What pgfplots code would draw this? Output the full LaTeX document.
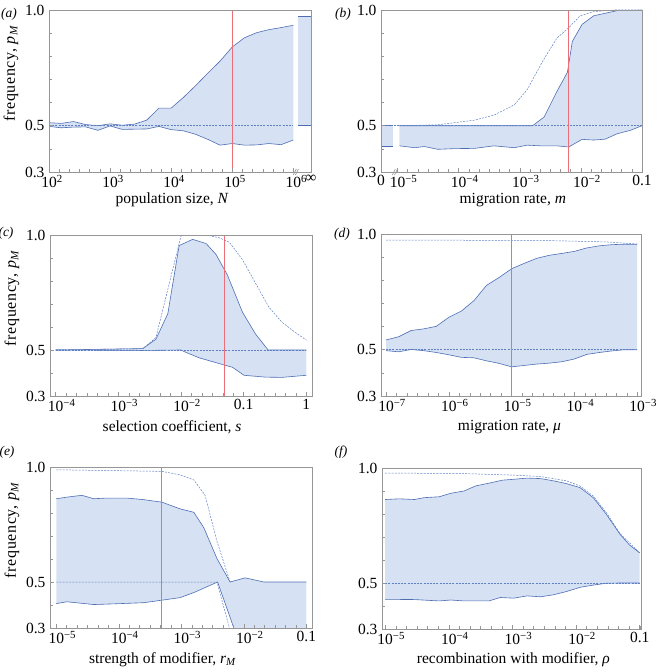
\documentclass[border=0pt]{standalone}
\usepackage{fontspec}
\setmainfont{Liberation Serif}
\newfontfamily\spacedfont[LetterSpace=4]{Liberation Serif}
\usepackage{pgfplots}
\usepackage{pgfplotstable}
\pgfplotsset{compat=1.18}
\usepgfplotslibrary{fillbetween}
\definecolor{bandfill}{RGB}{214,226,243}
\definecolor{bandline}{RGB}{78,110,180}
\definecolor{dashline}{RGB}{95,128,196}
\definecolor{redline}{RGB}{235,110,120}
\definecolor{framegray}{RGB}{150,150,150}
\newcommand\tickfont{\fontsize{15.5bp}{18bp}\selectfont}
\newcommand\ylabfont{\fontsize{16bp}{19bp}\selectfont}
\newcommand\panelfont{\fontsize{13.5bp}{16bp}\selectfont}
\newcommand\sx[1]{10\rlap{\textsuperscript{#1}}}

% ---------- panel (a)
\pgfplotstableread{
x up lo
2.0 0.513 0.497
2.2 0.510 0.491
2.4 0.518 0.494
2.6 0.505 0.495
2.8 0.500 0.480
3.0 0.508 0.499
3.2 0.502 0.484
3.4 0.507 0.485
3.6 0.524 0.486
3.8 0.576 0.497
4.0 0.576 0.483
4.2 0.622 0.478
4.4 0.673 0.463
4.6 0.727 0.441
4.8 0.779 0.416
5.0 0.840 0.423
5.2 0.880 0.416
5.4 0.902 0.417
5.6 0.915 0.423
5.8 0.924 0.418
6.0 0.934 0.438
}\tabA
% ---------- panel (b)
\pgfplotstableread{
x y
-4.97 0.500
-2.79 0.500
-2.60 0.538
-2.39 0.649
-2.22 0.731
-2.14 0.864
-1.98 0.938
-1.79 0.975
-1.41 0.997
-1.00 0.999
}\tabBup
\pgfplotstableread{
x y
-4.97 0.413
-4.72 0.405
-4.56 0.410
-4.34 0.398
-4.07 0.401
-3.74 0.402
-3.42 0.413
-3.09 0.405
-2.875 0.416
-2.66 0.413
-2.39 0.413
-2.20 0.408
-1.98 0.441
-1.79 0.438
-1.60 0.442
-1.41 0.465
-1.19 0.480
-1.00 0.500
}\tabBlo
\pgfplotstableread{
x y
-4.97 0.500
-4.34 0.504
-3.74 0.524
-3.42 0.546
-3.09 0.590
-2.875 0.657
-2.77 0.709
-2.60 0.790
-2.39 0.879
-2.20 0.923
-2.01 0.975
-1.79 0.993
-1.46 1.000
-1.00 1.000
}\tabBdash
% ---------- panel (c)
\pgfplotstableread{
x y
-4.00 0.500
-2.61 0.506
-2.40 0.547
-2.21 0.658
-2.03 0.954
-1.815 0.981
-1.60 0.963
-1.44 0.915
-1.26 0.826
-1.02 0.665
-0.81 0.569
-0.61 0.500
0.00 0.500
}\tabCup
\pgfplotstableread{
x y
-4.00 0.500
-2.61 0.498
-2.00 0.500
-1.95 0.493
-1.71 0.466
-1.30 0.434
-1.18 0.425
-0.995 0.390
-0.65 0.382
-0.39 0.381
0.00 0.390
}\tabClo
\pgfplotstableread{
x y
-4.00 0.500
-2.61 0.506
-2.40 0.554
-2.00 0.996
-1.815 1.000
-1.60 1.000
-1.39 0.988
-1.23 0.969
-1.02 0.893
-0.81 0.790
-0.60 0.687
-0.39 0.621
-0.175 0.576
0.00 0.543
}\tabCdash
% ---------- panel (d)
\pgfplotstableread{
x up lo
-7.0 0.542 0.496
-6.8 0.556 0.491
-6.6 0.583 0.501
-6.4 0.590 0.496
-6.2 0.601 0.488
-6.0 0.640 0.478
-5.8 0.667 0.467
-5.6 0.712 0.465
-5.4 0.778 0.452
-5.2 0.812 0.441
-5.0 0.850 0.426
-4.8 0.873 0.432
-4.6 0.895 0.438
-4.4 0.908 0.442
-4.2 0.916 0.448
-4.0 0.925 0.460
-3.8 0.940 0.480
-3.6 0.949 0.488
-3.4 0.954 0.495
-3.2 0.956 0.500
-3.0 0.955 0.500
}\tabD
% ---------- panel (e)
\pgfplotstableread{
x y
-5.00 0.862
-4.83 0.869
-4.59 0.877
-4.40 0.862
-4.19 0.865
-3.87 0.865
-3.60 0.858
-3.31 0.847
-3.02 0.818
-2.80 0.803
-2.64 0.736
-2.43 0.602
-2.22 0.500
-1.98 0.518
-1.68 0.500
-1.00 0.500
}\tabEup
\pgfplotstableread{
x y
-5.00 0.406
-4.83 0.414
-4.40 0.402
-4.08 0.405
-3.60 0.410
-3.31 0.421
-3.02 0.432
-2.80 0.454
-2.42 0.500
-2.16 0.300
-1.90 0.000
-1.00 0.000
}\tabElo
\pgfplotstableread{
x y
-5.00 0.988
-3.31 0.981
-3.02 0.966
-2.80 0.944
-2.62 0.877
-2.43 0.677
-2.22 0.500
}\tabEdash
% ---------- panel (f)
\pgfplotstableread{
x y
-5.00 0.863
-4.78 0.866
-4.54 0.863
-4.39 0.871
-4.15 0.875
-3.97 0.890
-3.76 0.900
-3.58 0.922
-3.37 0.934
-3.16 0.947
-2.98 0.951
-2.77 0.956
-2.56 0.954
-2.35 0.944
-2.15 0.932
-1.94 0.915
-1.73 0.871
-1.52 0.797
-1.31 0.712
-1.16 0.665
-1.00 0.631
}\tabFup
\pgfplotstableread{
x y
-5.00 0.429
-4.54 0.428
-4.15 0.422
-3.97 0.426
-3.76 0.422
-3.58 0.422
-3.37 0.422
-3.19 0.437
-2.98 0.434
-2.77 0.444
-2.56 0.440
-2.35 0.449
-2.15 0.463
-1.94 0.481
-1.73 0.491
-1.52 0.499
-1.31 0.500
-1.00 0.500
}\tabFlo
\pgfplotstableread{
x y
-5.00 0.978
-3.80 0.976
-2.98 0.969
-2.56 0.963
-2.15 0.944
-1.94 0.922
-1.73 0.878
-1.52 0.804
-1.31 0.715
-1.00 0.631
}\tabFdash

\pgfplotsset{
  panel/.style={
    scale only axis, width=262bp, height=162bp,
    anchor=south west,
    ymin=0.3, ymax=1.0,
    ytick={0.3,0.5,1.0}, yticklabels={0.3,0.5,1.0},
    minor ytick={0.4,0.6,0.7,0.8,0.9},
    axis on top,
    axis line style={draw=framegray, line width=0.8bp},
    tick style={framegray, line width=0.5bp},
    major tick length=4bp, minor tick length=3bp,
    tick align=inside, xtick pos=bottom, ytick pos=left,
    ticklabel style={font=\tickfont},
    yticklabel style={xshift=-1bp},
    xlabel style={font=\tickfont, anchor=center},
    ylabel style={font=\ylabfont, anchor=center, at={(axis description cs:-0.145,0.61)}},
  },
  sol/.style={bandline, line width=0.6bp, no marks},
  dsh/.style={dashline, line width=0.5bp, dash pattern=on 2bp off 1.2bp, no marks},
  rl/.style={color=redline, line width=1.1bp, no marks},
}

\begin{document}
\begin{tikzpicture}

% (a)
\begin{axis}[panel, at={(49bp,500bp)}, clip mode=individual,
  xmin=2, xmax=6.29,
  xtick={2,3,4,5,6,6.29},
  xticklabels={\sx{2},\sx{3},\sx{4},\sx{5},\sx{6},∞},
  minor xtick={2,2.1667,...,6},
  xlabel={population size, \textit{N}},
  xlabel style={at={(axis description cs:0.47,0)}, yshift=-28bp},
  ylabel={\spacedfont frequency, \textit{p}\textsubscript{\textit{M}}}]
\addplot[sol, name path=AU] table[x=x,y=up] {\tabA};
\addplot[sol, name path=AL] table[x=x,y=lo] {\tabA};
\addplot[fill=bandfill, draw=none] fill between[of=AU and AL];
\addplot[sol, name path=AIU] coordinates {(6.08,0.973) (6.29,0.973)};
\addplot[sol, name path=AIL] coordinates {(6.08,0.5) (6.29,0.5)};
\addplot[fill=bandfill, draw=none] fill between[of=AIU and AIL];
\addplot[dsh] coordinates {(2,0.5) (6,0.5)};
\addplot[rl] coordinates {(5,0.3) (5,1.0)};
\draw[framegray, line width=0.6bp] (axis cs:6.025,0.3) ++(-1.5bp,-3bp) -- ++(3bp,6bp);
\draw[framegray, line width=0.6bp] (axis cs:6.06,0.3) ++(-1.5bp,-3bp) -- ++(3bp,6bp);
\end{axis}

% (b)
\begin{axis}[panel, at={(381bp,500bp)}, width=261bp, clip mode=individual,
  xmin=-5.27, xmax=-1,
  xtick={-5.27,-5,-4,-3,-2,-1},
  xticklabels={0,\sx{−5},\sx{−4},\sx{−3},\sx{−2},0.1},
  minor xtick={-5,-4.8333,...,-1},
  xlabel={migration rate, \textit{m}},
  xlabel style={at={(axis description cs:0.505,0)}, yshift=-28bp}]
\addplot[sol, name path=BU] table {\tabBup};
\addplot[sol, name path=BL] table {\tabBlo};
\addplot[fill=bandfill, draw=none] fill between[of=BU and BL];
\addplot[sol, name path=BZU] coordinates {(-5.27,0.5) (-5.07,0.5)};
\addplot[sol, name path=BZL] coordinates {(-5.27,0.413) (-5.07,0.413)};
\addplot[fill=bandfill, draw=none] fill between[of=BZU and BZL];
\addplot[dsh] table {\tabBdash};
\addplot[dsh] coordinates {(-5.27,0.5) (-1,0.5)};
\addplot[rl] coordinates {(-2.20,0.3) (-2.20,1.0)};
\draw[framegray, line width=0.6bp] (axis cs:-5.06,0.3) ++(-1.5bp,-3bp) -- ++(3bp,6bp);
\draw[framegray, line width=0.6bp] (axis cs:-5.025,0.3) ++(-1.5bp,-3bp) -- ++(3bp,6bp);
\end{axis}

% (c)
\begin{axis}[panel, at={(50bp,276bp)}, height=161bp,
  xmin=-4.09, xmax=0.09,
  xtick={-4,-3,-2,-1,0},
  xticklabels={\sx{−4},\sx{−3},\sx{−2},0.1,1},
  minor xtick={-4,-3.8333,...,0},
  xlabel={selection coefficient, \textit{s}},
  xlabel style={at={(axis description cs:0.466,0)}, yshift=-31bp},
  ylabel={\spacedfont frequency, \textit{p}\textsubscript{\textit{M}}}]
\addplot[sol, name path=CU] table {\tabCup};
\addplot[sol, name path=CL] table {\tabClo};
\addplot[fill=bandfill, draw=none] fill between[of=CU and CL];
\addplot[dsh] table {\tabCdash};
\addplot[dsh] coordinates {(-4,0.5) (0,0.5)};
\addplot[rl] coordinates {(-1.30,0.3) (-1.30,1.0)};
\end{axis}

% (d)
\begin{axis}[panel, at={(381bp,276bp)}, width=260bp,
  xmin=-7.08, xmax=-2.94,
  xtick={-7,-6,-5,-4,-3},
  xticklabels={\sx{−7},\sx{−6},\sx{−5},\sx{−4},\sx{−3}},
  minor xtick={-7,-6.8333,...,-3},
  xlabel={migration rate, \textit{μ}},
  xlabel style={at={(axis description cs:0.494,0)}, yshift=-31bp}]
\addplot[sol, name path=DU] table[x=x,y=up] {\tabD};
\addplot[sol, name path=DL] table[x=x,y=lo] {\tabD};
\addplot[fill=bandfill, draw=none] fill between[of=DU and DL];
\addplot[dsh] coordinates {(-7,0.974) (-4.5,0.972) (-3.5,0.966) (-3,0.957)};
\addplot[dsh] coordinates {(-7,0.5) (-3,0.5)};
\addplot[rl] coordinates {(-5,0.3) (-5,1.0)};
\end{axis}

% (e)
\begin{axis}[panel, at={(50bp,44bp)}, height=161bp,
  xmin=-5.1, xmax=-0.91,
  xtick={-5,-4,-3,-2,-1},
  xticklabels={\sx{−5},\sx{−4},\sx{−3},\sx{−2},0.1},
  minor xtick={-5,-4.8333,...,-1},
  xlabel={strength of modifier, \textit{r}\textsubscript{\textit{M}}},
  xlabel style={at={(axis description cs:0.43,0)}, yshift=-32bp},
  ylabel={\spacedfont frequency, \textit{p}\textsubscript{\textit{M}}}]
\addplot[sol, name path=EU] table {\tabEup};
\addplot[sol, name path=EL] table {\tabElo};
\addplot[fill=bandfill, draw=none] fill between[of=EU and EL];
\addplot[dsh] table {\tabEdash};
\addplot[dsh] coordinates {(-5,0.5) (-2.43,0.5) (-2.23,0.3) (-1.93,0.0)};
\addplot[rl] coordinates {(-3.31,0.3) (-3.31,1.0)};
\end{axis}

% (f)
\begin{axis}[panel, at={(382bp,43bp)}, width=259bp, height=161bp,
  xmin=-5.05, xmax=-0.98,
  xtick={-5,-4,-3,-2,-1},
  xticklabels={\sx{−5},\sx{−4},\sx{−3},\sx{−2},0.1},
  minor xtick={-5,-4.8333,...,-1},
  xlabel={recombination with modifier, \textit{ρ}},
  xlabel style={at={(axis description cs:0.507,0)}, yshift=-31bp}]
\addplot[sol, name path=FU] table {\tabFup};
\addplot[sol, name path=FL] table {\tabFlo};
\addplot[fill=bandfill, draw=none] fill between[of=FU and FL];
\addplot[dsh] table {\tabFdash};
\addplot[dsh] coordinates {(-5,0.5) (-1,0.5)};
\end{axis}

\node[font=\panelfont] at (9bp,658bp) {\textit{(a)}};
\node[font=\panelfont] at (343bp,658bp) {\textit{(b)}};
\node[font=\panelfont] at (6bp,439bp) {\textit{(c)}};
\node[font=\panelfont] at (342bp,438bp) {\textit{(d)}};
\node[font=\panelfont] at (7bp,220bp) {\textit{(e)}};
\node[font=\panelfont] at (341bp,220bp) {\textit{(f)}};
\pgfresetboundingbox
\path[use as bounding box] (0,0) rectangle (658bp,672bp);
\end{tikzpicture}
\end{document}
